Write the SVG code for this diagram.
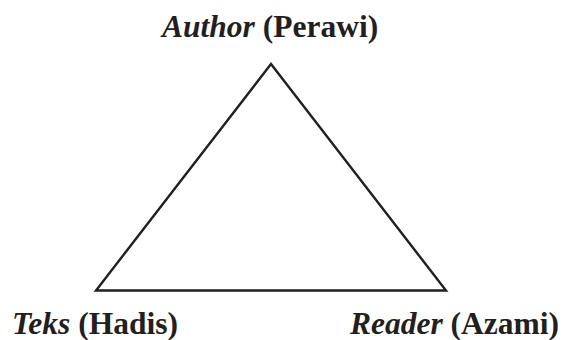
<svg xmlns="http://www.w3.org/2000/svg" width="562" height="340" viewBox="0 0 562 340">
  <style>
    .lbl { font-family: "Liberation Serif", "Times New Roman", serif; font-size: 31.5px; font-weight: bold; fill: #231f20; }
    .it { font-style: italic; }
    .edge { fill: none; stroke: #231f20; stroke-width: 2.4; stroke-linejoin: miter; }
  </style>
  <rect width="562" height="340" fill="#ffffff"/>
  <g id="connectors">
    <polygon class="edge" points="271,64 96,290.5 446,290.5"/>
  </g>
  <g id="author">
    <text class="lbl" x="162" y="37"><tspan class="it">Author</tspan> (Perawi)</text>
  </g>
  <g id="teks">
    <text class="lbl" x="12" y="334"><tspan class="it">Teks</tspan> (Hadis)</text>
  </g>
  <g id="reader">
    <text class="lbl" x="350" y="334"><tspan class="it">Reader</tspan> (Azami)</text>
  </g>
</svg>
